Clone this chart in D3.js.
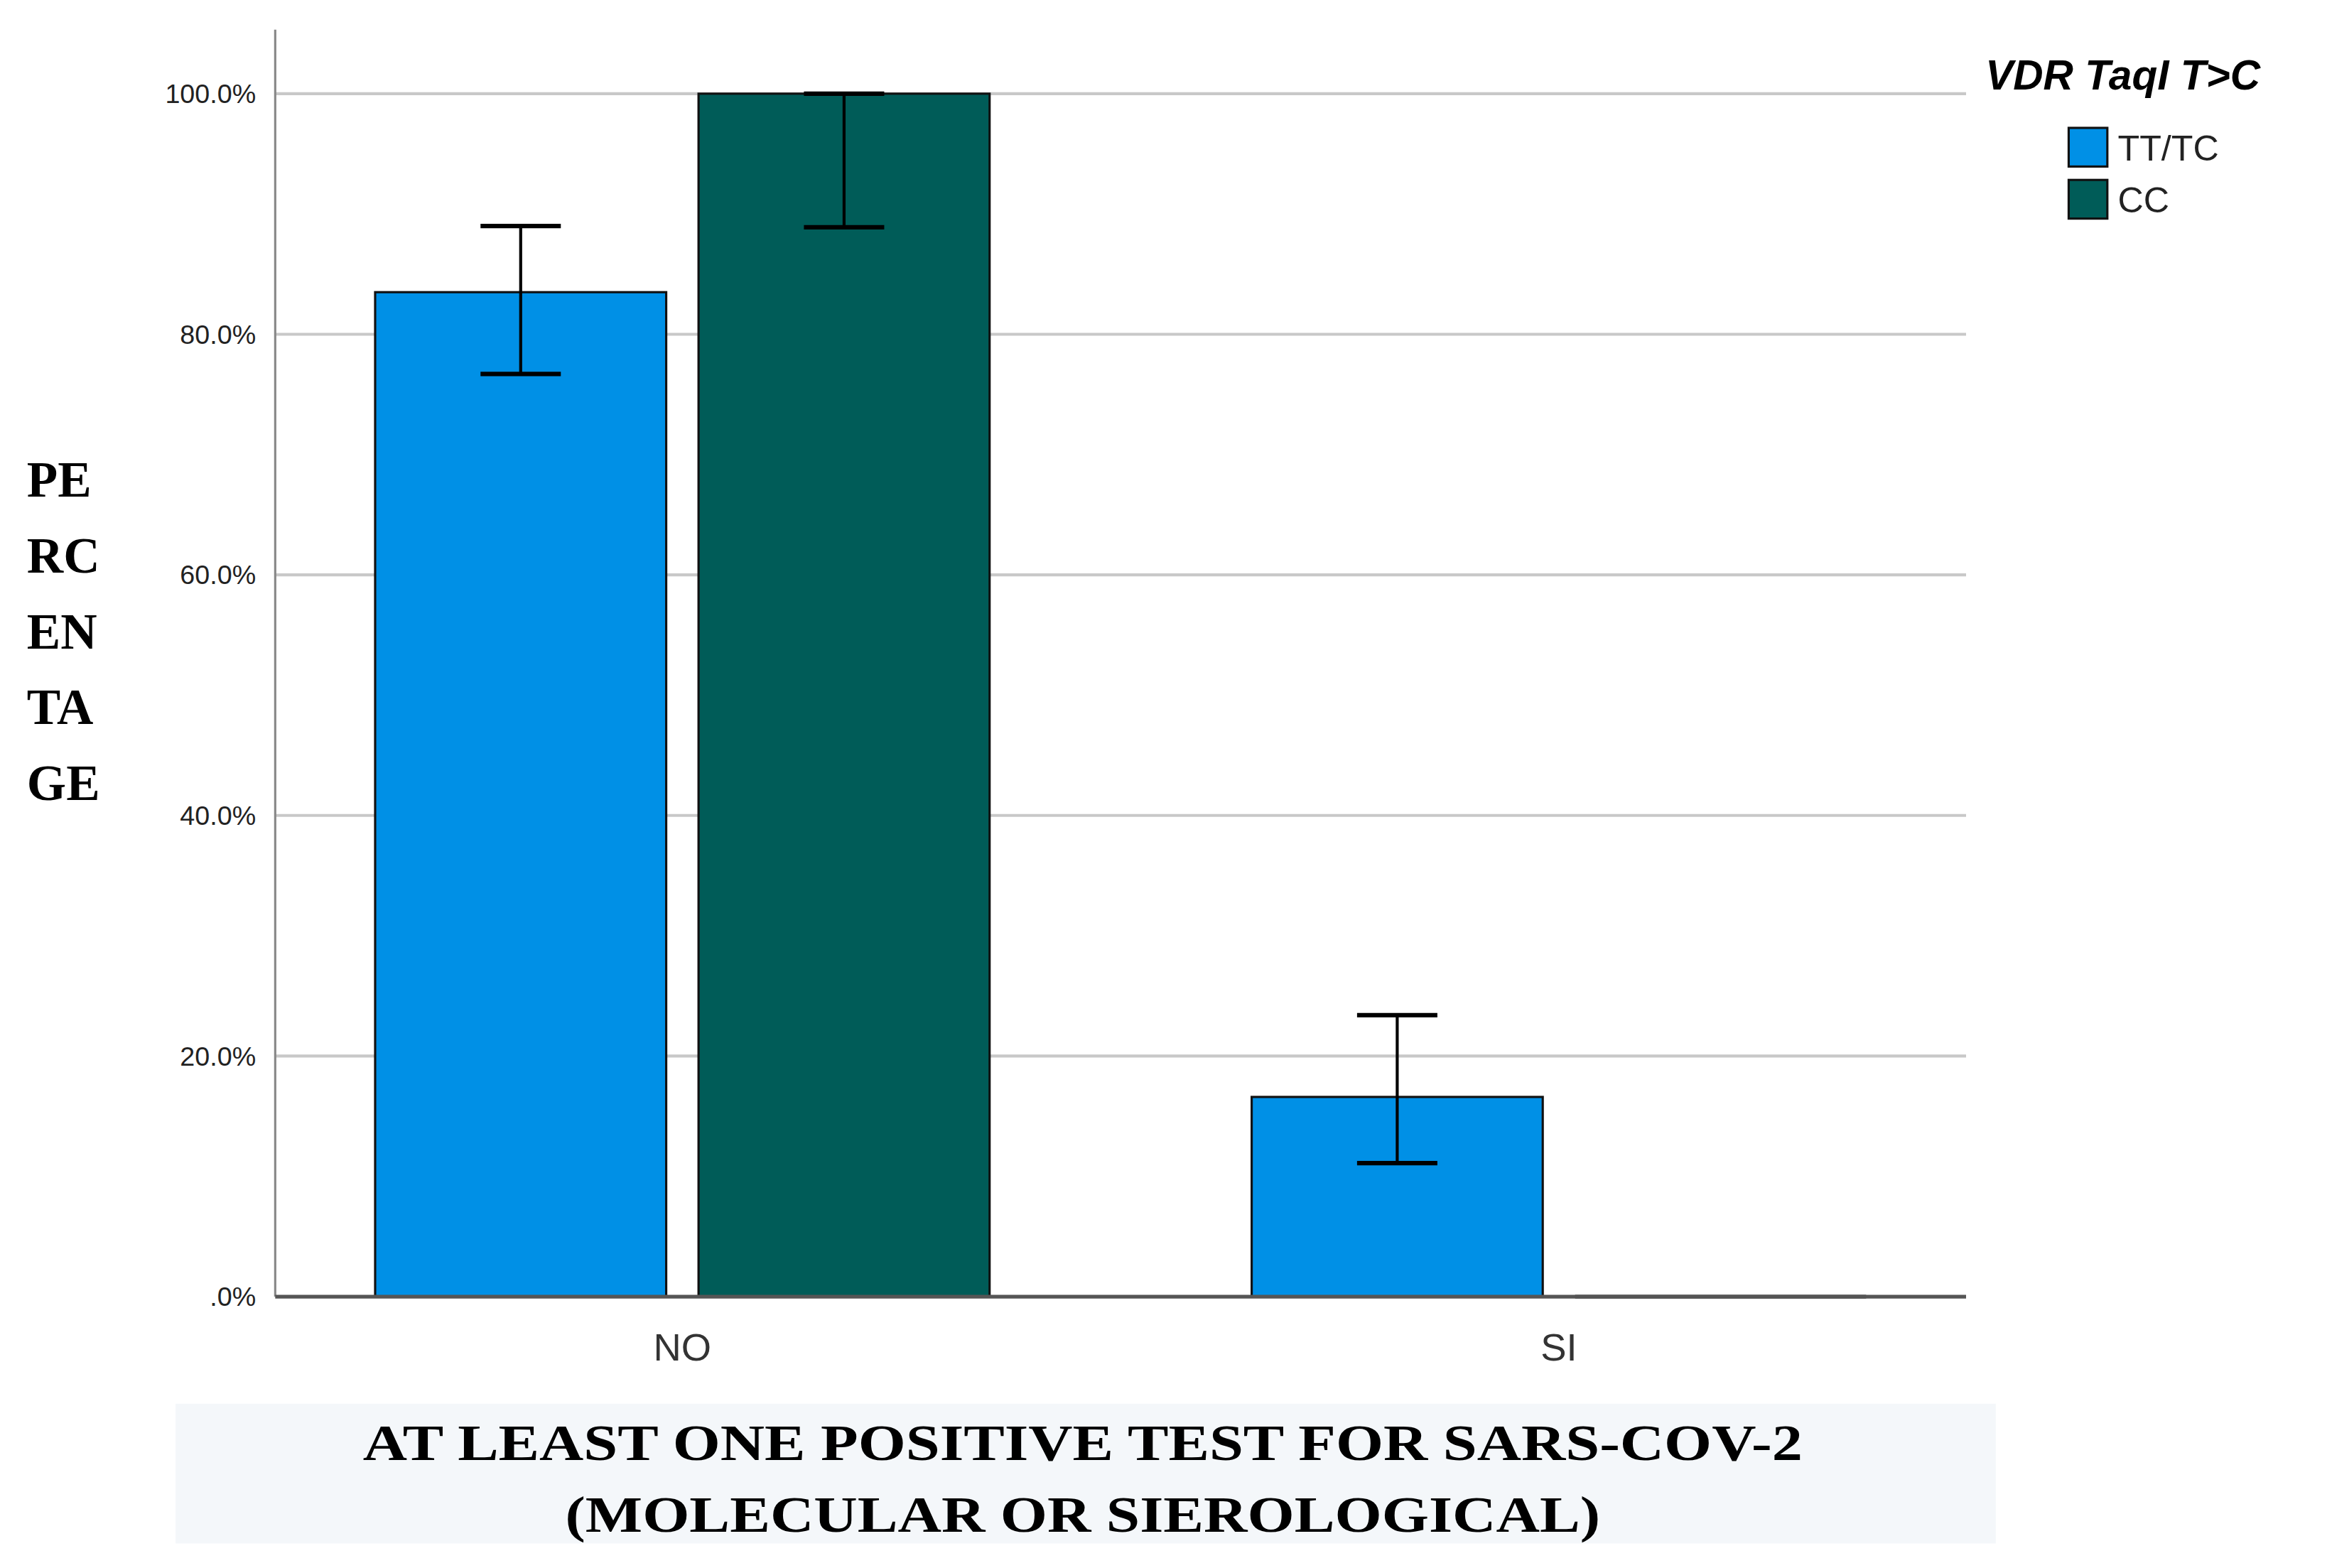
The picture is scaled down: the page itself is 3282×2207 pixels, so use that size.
<!DOCTYPE html>
<html><head><meta charset="utf-8">
<script src="https://cdn.jsdelivr.net/npm/d3@7"></script>
<style>body{margin:0;background:#fff}</style>
</head><body>
<script>
// data
var categories = ['NO', 'SI'];
var groups = ['TT/TC', 'CC'];
var colors = ['#0090e6', '#005c58'];
var values = [[83.5, 100.0], [16.6, 0.0]];
var err_lo = [[76.7, 88.9], [11.1, null]];
var err_hi = [[89.0, 100.0], [23.4, null]];
var ticks = [0, 20, 40, 60, 80, 100];

var W = 1568, H = 1054.5;
var svg = d3.select('body').append('svg').attr('width', 3282).attr('height', 2207)
	.attr('viewBox', '0 0 ' + W + ' ' + H);

var left = 185, right = 1322, top0 = 20, bottom = 872;
var y = d3.scaleLinear().domain([0, 100]).range([bottom, 63]);
var x0 = d3.scaleBand().domain(categories).range([left, right]).paddingInner(0.299).paddingOuter(0.114);
var x1 = d3.scaleBand().domain(groups).range([0, x0.bandwidth()]).paddingInner(0.1);

// grid
svg.append('g').selectAll('line').data(ticks.filter(t => t > 0)).enter().append('line')
	.attr('x1', left).attr('x2', right).attr('y1', d => y(d)).attr('y2', d => y(d))
	.attr('stroke', '#c8c8c8').attr('stroke-width', 2);

// y axis
var yaxis = svg.append('g').attr('transform', 'translate(' + left + ',0)')
	.call(d3.axisLeft(y).tickValues(ticks).tickSize(0).tickPadding(13)
		.tickFormat(d => d === 0 ? '.0%' : d.toFixed(1) + '%'));
yaxis.select('.domain').remove();
yaxis.selectAll('text').attr('font-family', 'Liberation Sans, Arial').attr('font-size', 18).attr('fill', '#222');
svg.append('line').attr('x1', left).attr('x2', left).attr('y1', top0).attr('y2', bottom)
	.attr('stroke', '#888').attr('stroke-width', 1.5);

// bars
var cat = svg.append('g').selectAll('g').data(categories).enter().append('g')
	.attr('transform', d => 'translate(' + x0(d) + ',0)');
cat.selectAll('rect').data((d, i) => groups.map((g, j) => ({ g: g, v: values[i][j], j: j }))).enter()
	.append('rect').attr('x', d => x1(d.g)).attr('width', x1.bandwidth())
	.attr('y', d => y(d.v)).attr('height', d => y(0) - y(d.v))
	.attr('fill', (d) => colors[d.j]).attr('stroke', '#111').attr('stroke-width', 1.5);

// x axis line
svg.append('line').attr('x1', left).attr('x2', right).attr('y1', bottom).attr('y2', bottom)
	.attr('stroke', '#555').attr('stroke-width', 2.5);
cat.filter((d, i) => values[i][1] === 0).append('line')
	.attr('x1', x1('CC')).attr('x2', x1('CC') + x1.bandwidth())
	.attr('y1', bottom).attr('y2', bottom).attr('stroke', '#222').attr('stroke-width', 2.5);

// error bars
cat.each(function (d, i) {
	var g = d3.select(this);
	groups.forEach(function (grp, j) {
		if (err_lo[i][j] === null) return;
		var cx = x1(grp) + x1.bandwidth() / 2;
		g.append('line').attr('x1', cx).attr('x2', cx).attr('y1', y(err_lo[i][j])).attr('y2', y(err_hi[i][j]))
			.attr('stroke', '#000').attr('stroke-width', 2);
		[err_lo[i][j], err_hi[i][j]].forEach(function (v) {
			g.append('line').attr('x1', cx - 27).attr('x2', cx + 27).attr('y1', y(v)).attr('y2', y(v))
				.attr('stroke', '#000').attr('stroke-width', 3);
		});
	});
});

// category labels
svg.append('g').selectAll('text').data(categories).enter().append('text')
	.attr('x', d => x0(d) + x0.bandwidth() / 2).attr('y', 915).attr('text-anchor', 'middle')
	.attr('font-family', 'Liberation Sans, Arial').attr('font-size', 26).attr('fill', '#333').text(d => d);

// y title
['PE', 'RC', 'EN', 'TA', 'GE'].forEach(function (t, i) {
	svg.append('text').attr('x', 18).attr('y', 334 + i * 51).text(t)
		.attr('font-family', 'Liberation Serif, Times New Roman').attr('font-weight', 'bold')
		.attr('font-size', 34).attr('fill', '#000');
});

// x title box
svg.append('rect').attr('x', 118).attr('y', 944).attr('width', 1224).attr('height', 94).attr('fill', '#f4f7fa');
['AT LEAST ONE POSITIVE TEST FOR SARS-COV-2', '(MOLECULAR OR SIEROLOGICAL)'].forEach(function (t, i) {
	svg.append('text').attr('x', 728).attr('y', 982 + i * 48).attr('text-anchor', 'middle').text(t)
		.attr('font-family', 'Liberation Serif, Times New Roman').attr('font-weight', 'bold')
		.attr('font-size', 34).attr('fill', '#000').attr('textLength', i === 0 ? 968 : 696)
		.attr('lengthAdjust', 'spacingAndGlyphs');
});

// legend
svg.append('text').attr('x', 1335).attr('y', 60).text('VDR TaqI T>C')
	.attr('font-family', 'Liberation Sans, Arial').attr('font-weight', 'bold').attr('font-style', 'italic')
	.attr('font-size', 28).attr('fill', '#000');
var leg = svg.append('g').selectAll('g').data(groups).enter().append('g')
	.attr('transform', (d, i) => 'translate(1391,' + (86 + i * 35) + ')');
leg.append('rect').attr('width', 26).attr('height', 26).attr('fill', (d, i) => colors[i])
	.attr('stroke', '#111').attr('stroke-width', 1.5);
leg.append('text').attr('x', 33).attr('y', 22).text(d => d)
	.attr('font-family', 'Liberation Sans, Arial').attr('font-size', 24).attr('fill', '#222');
</script>
</body></html>
